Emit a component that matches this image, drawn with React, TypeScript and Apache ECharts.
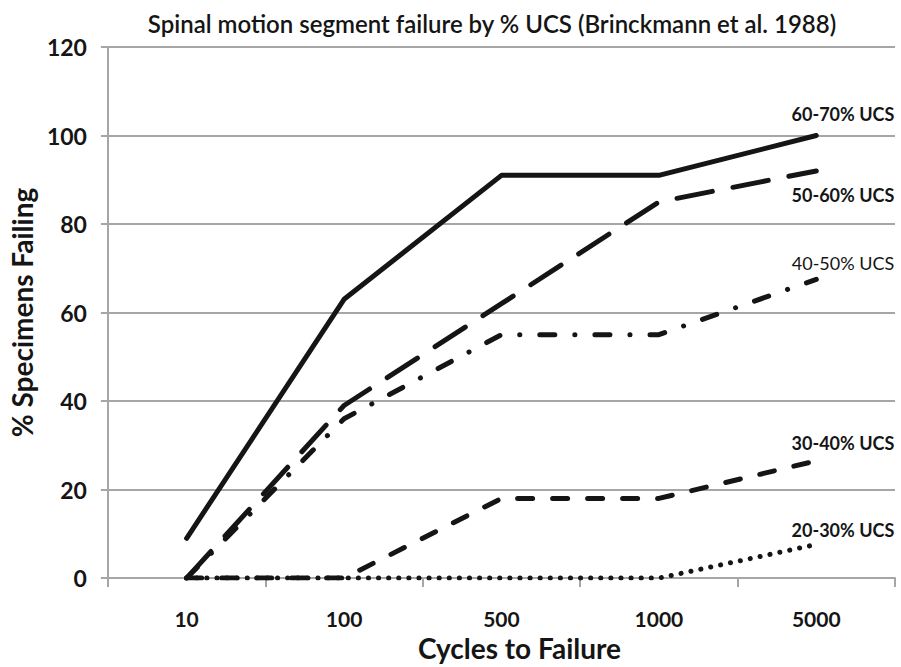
import React, { useEffect, useRef } from "react";
import * as echarts from "echarts";

const categories = ["10", "100", "500", "1000", "5000"];
const s6070 = [9, 63, 91, 91, 100];
const s5060 = [0, 39, 62, 85, 92];
const s4050 = [0, 36, 55, 55, 67.5];
const s3040 = [0, 0, 18, 18, 26.5];
const s2030 = [0, 0, 0, 0, 7.6];
const yTicks = { min: 0, max: 120, interval: 20 };

const FONT = "Lato, 'Open Sans', sans-serif";
const INK = "#151515";
const GRID = "#a6a6a6";

export default function App() {
  const ref = useRef<HTMLDivElement>(null);
  useEffect(() => {
    if (!ref.current) return;
    const chart = echarts.init(ref.current, undefined, { renderer: "svg" });
    const mk = (
      name: string,
      data: number[],
      type: any,
      width: number,
      offset: [number, number],
      bold = true
    ) => ({
      name,
      type: "line",
      data,
      showSymbol: false,
      symbol: "none",
      lineStyle: { color: INK, width, type, cap: "round", join: "round" },
      endLabel: {
        show: true,
        formatter: name,
        color: INK,
        fontFamily: FONT,
        fontSize: 18,
        fontWeight: bold ? "bold" : "normal",
        align: "right",
        verticalAlign: "middle",
        distance: 0,
        offset,
      },
      emphasis: { disabled: true },
    });
    chart.setOption({
      animation: false,
      backgroundColor: "#ffffff",
      title: {
        text: "Spinal motion segment failure by % UCS (Brinckmann et al. 1988)",
        left: 487,
        textAlign: "center",
        top: 6,
        textStyle: { fontFamily: FONT, fontSize: 24, fontWeight: 600, color: INK },
      },
      grid: { left: 104, right: 6, top: 47, bottom: 85, containLabel: false },
      xAxis: {
        type: "category",
        data: categories,
        boundaryGap: true,
        name: "Cycles to Failure",
        nameLocation: "middle",
        nameGap: 54,
        nameTextStyle: {
          fontFamily: FONT,
          fontSize: 28,
          fontWeight: "bold",
          color: INK,
          padding: [0, 0, 0, 36],
        },
        axisLine: { lineStyle: { color: GRID, width: 2 } },
        axisTick: { show: true, length: 9, lineStyle: { color: GRID, width: 2 } },
        axisLabel: { fontFamily: FONT, fontSize: 21, fontWeight: "bold", color: INK, margin: 30 },
      },
      yAxis: {
        type: "value",
        min: yTicks.min,
        max: yTicks.max,
        interval: yTicks.interval,
        name: "% Specimens Failing",
        nameLocation: "middle",
        nameGap: 62,
        nameTextStyle: { fontFamily: FONT, fontSize: 28, fontWeight: "bold", color: INK },
        axisLine: { show: true, lineStyle: { color: GRID, width: 2 } },
        axisTick: { show: true, length: 7, lineStyle: { color: GRID, width: 2 } },
        axisLabel: { fontFamily: FONT, fontSize: 23, fontWeight: "bold", color: INK, margin: 21 },
        splitLine: { lineStyle: { color: GRID, width: 2 } },
      },
      series: [
        mk("60-70% UCS", s6070, "solid", 5, [78, -22]),
        mk("50-60% UCS", s5060, [36, 21], 5, [78, 24]),
        mk("40-50% UCS", s4050, [15, 20, 0.1, 20], 5, [78, -16], false),
        mk("30-40% UCS", s3040, [15, 20], 5, [78, -18]),
        mk("20-30% UCS", s2030, [0.1, 10], 5, [78, -14]),
      ],
    });
    return () => chart.dispose();
  }, []);
  return (
    <div
      ref={ref}
      style={{ position: "absolute", left: 0, top: 0, width: 901, height: 667 }}
    />
  );
}
